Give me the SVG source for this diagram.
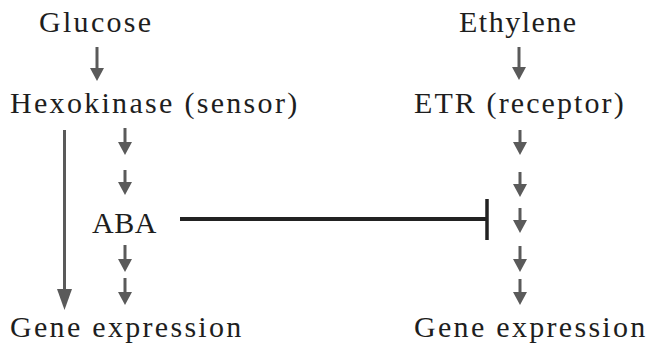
<svg xmlns="http://www.w3.org/2000/svg" width="653" height="348" viewBox="0 0 653 348">
<style>
text{font-family:"Liberation Serif","Times New Roman",serif;font-size:30px;fill:#1e1e1e;letter-spacing:2.3px}
.ar{stroke:#5a5a5a;stroke-width:3;fill:none}
.inh{stroke:#222;stroke-width:4;fill:none}
</style>
<defs>
<marker id="h" markerUnits="userSpaceOnUse" viewBox="0 0 13 14" markerWidth="13" markerHeight="14" refX="0" refY="7" orient="auto"><path d="M0,0 L13,7 L0,14 z" fill="#5a5a5a"/></marker>
<marker id="hl" markerUnits="userSpaceOnUse" viewBox="0 0 21 15" markerWidth="21" markerHeight="15" refX="0" refY="7.5" orient="auto"><path d="M0,0 L21,7.5 L0,15 z" fill="#5a5a5a"/></marker>
</defs>
<g id="glucose"><text x="39" y="32">Glucose</text></g>
<g id="hexokinase"><text x="10" y="113">Hexokinase (sensor)</text></g>
<g id="aba"><text x="92" y="233" style="letter-spacing:0.5px">ABA</text></g>
<g id="gene-left"><text x="10" y="337">Gene expression</text></g>
<g id="ethylene"><text x="459" y="32" style="letter-spacing:1.5px">Ethylene</text></g>
<g id="etr"><text x="414" y="113" style="letter-spacing:2.1px">ETR (receptor)</text></g>
<g id="gene-right"><text x="414" y="337">Gene expression</text></g>
<g id="connectors">
<line class="ar" x1="97" y1="47" x2="97" y2="68" marker-end="url(#h)"/>
<line class="ar" x1="519" y1="47" x2="519" y2="67" marker-end="url(#h)"/>
<line class="ar" x1="64.5" y1="130" x2="64.5" y2="289" marker-end="url(#hl)"/>
<line class="ar" x1="125" y1="128" x2="125" y2="142" marker-end="url(#h)"/>
<line class="ar" x1="125" y1="170" x2="125" y2="182" marker-end="url(#h)"/>
<line class="ar" x1="125" y1="245" x2="125" y2="259" marker-end="url(#h)"/>
<line class="ar" x1="125" y1="278" x2="125" y2="292" marker-end="url(#h)"/>
<line class="ar" x1="520" y1="130" x2="520" y2="142" marker-end="url(#h)"/>
<line class="ar" x1="520" y1="172" x2="520" y2="184" marker-end="url(#h)"/>
<line class="ar" x1="520" y1="208" x2="520" y2="220" marker-end="url(#h)"/>
<line class="ar" x1="520" y1="246" x2="520" y2="259" marker-end="url(#h)"/>
<line class="ar" x1="520" y1="279" x2="520" y2="292" marker-end="url(#h)"/>
<line class="inh" x1="180" y1="219" x2="487" y2="219"/>
<line class="inh" x1="487" y1="199" x2="487" y2="240" style="stroke-width:3.5"/>
</g>
</svg>
